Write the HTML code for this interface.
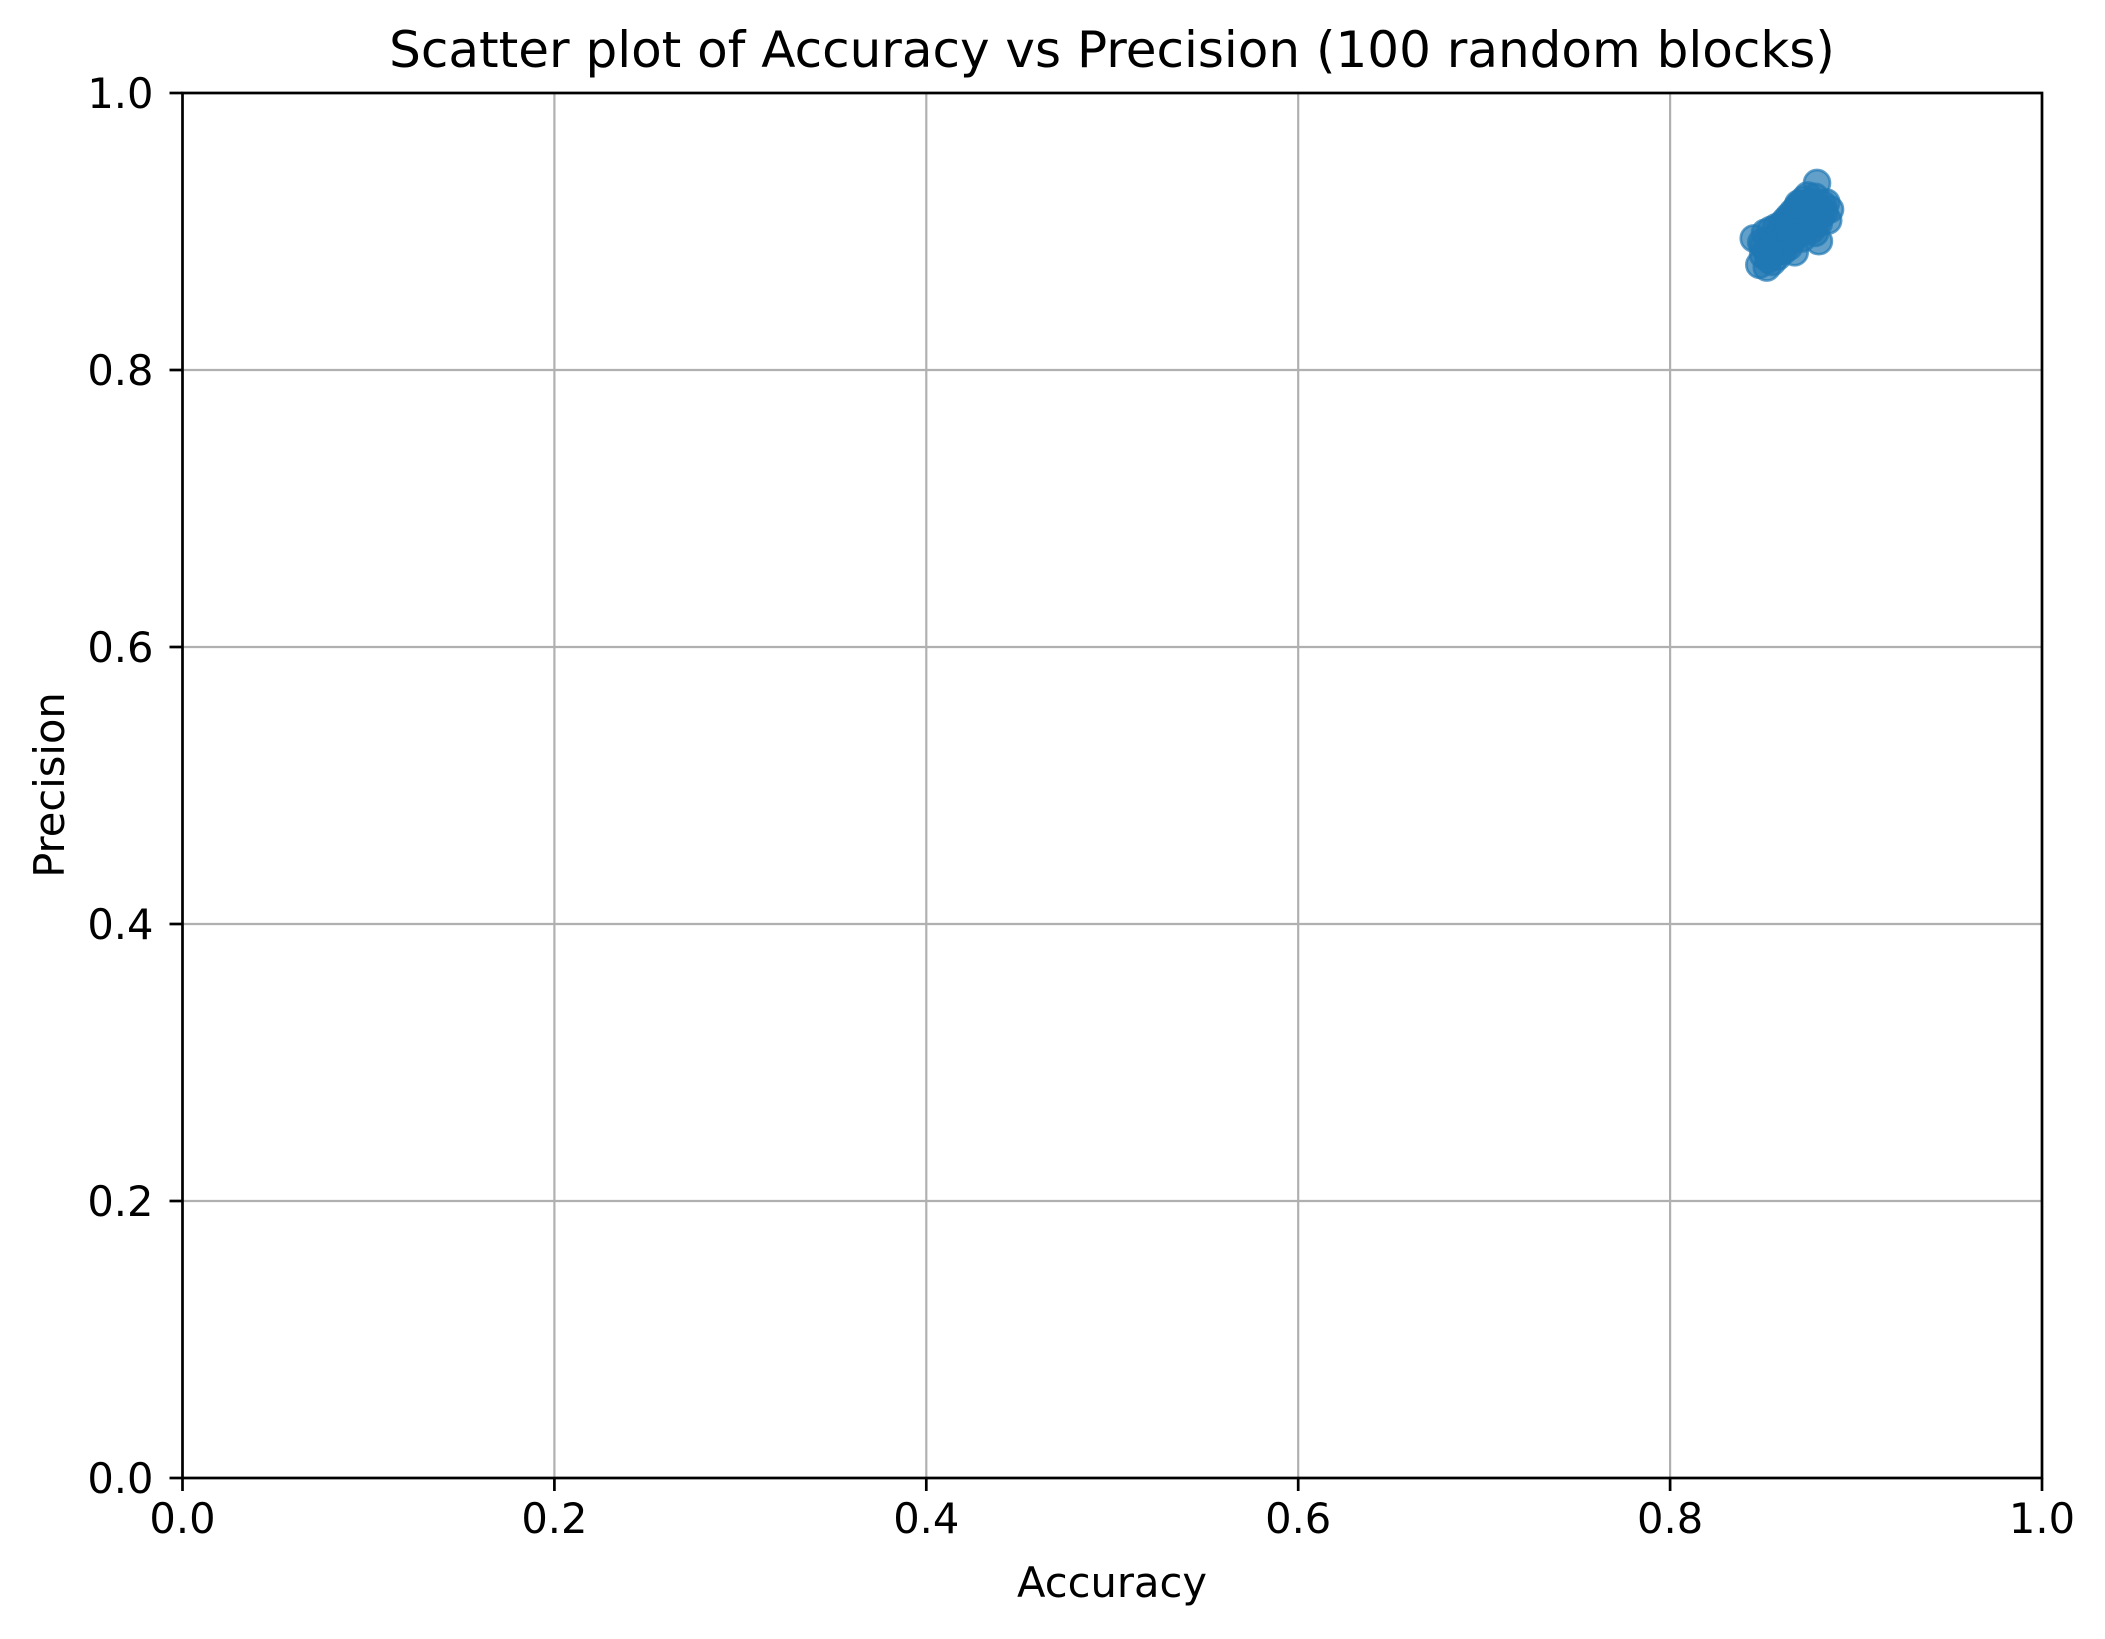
<!DOCTYPE html>
<html><head><meta charset="utf-8"><style>
html,body{margin:0;padding:0;background:#fff}
svg text{font-family:"DejaVu Sans","Liberation Sans",sans-serif;fill:#000}
</style></head><body>
<svg id="chart" width="2105" height="1634" xmlns="http://www.w3.org/2000/svg">
<rect width="2105" height="1634" fill="#fff"/>
<g id="grid"></g>
<g id="points"></g>
<rect x="182.5" y="93" width="1859.5" height="1385" fill="none" stroke="#000" stroke-width="2.7"/>
<g id="ticks"></g>
<text x="1112" y="67" font-size="50" text-anchor="middle">Scatter plot of Accuracy vs Precision (100 random blocks)</text>
<text x="1112" y="1597" font-size="41.6" text-anchor="middle">Accuracy</text>
<text x="0" y="0" font-size="41.6" text-anchor="middle" transform="translate(64,785) rotate(-90)">Precision</text>
</svg>
<script>
const xTicks=[0,0.2,0.4,0.6,0.8,1.0];
const yTicks=[0,0.2,0.4,0.6,0.8,1.0];
const tickLabels=["0.0","0.2","0.4","0.6","0.8","1.0"];
const accuracy=[0.845,0.848,0.850,0.852,0.851,0.853,0.855,0.854,0.856,0.857,0.858,0.857,0.859,0.860,0.861,0.860,0.862,0.863,0.862,0.864,0.865,0.864,0.866,0.867,0.866,0.868,0.869,0.868,0.870,0.871,0.870,0.872,0.873,0.872,0.874,0.875,0.874,0.876,0.877,0.876,0.878,0.879,0.880,0.881,0.882,0.884,0.886,0.880,0.878,0.876,0.852,0.854,0.856,0.858,0.860,0.862,0.864,0.866,0.868,0.870,0.872,0.874,0.876,0.878,0.880,0.853,0.857,0.861,0.865,0.869,0.873,0.877,0.881,0.855,0.859,0.863,0.867,0.871,0.875,0.879,0.850,0.849,0.858,0.862,0.866,0.870,0.874,0.878,0.883,0.885,0.856,0.860,0.864,0.868,0.872,0.876,0.867,0.871,0.863,0.869];
const precision=[0.895,0.876,0.890,0.874,0.899,0.884,0.893,0.901,0.888,0.897,0.882,0.903,0.891,0.895,0.886,0.905,0.898,0.892,0.908,0.889,0.900,0.911,0.894,0.906,0.914,0.899,0.910,0.917,0.903,0.912,0.920,0.906,0.915,0.923,0.909,0.918,0.926,0.904,0.913,0.921,0.909,0.935,0.917,0.911,0.920,0.921,0.916,0.893,0.899,0.901,0.886,0.892,0.889,0.896,0.900,0.897,0.904,0.902,0.908,0.905,0.912,0.910,0.915,0.913,0.906,0.880,0.885,0.890,0.894,0.898,0.902,0.907,0.913,0.878,0.887,0.893,0.897,0.901,0.906,0.918,0.883,0.892,0.894,0.896,0.909,0.914,0.919,0.925,0.914,0.908,0.890,0.887,0.899,0.912,0.916,0.911,0.885,0.895,0.903,0.920];
const L=182.5,R=2042,T=93,B=1478;
const sx=v=>L+(v-0)/(1-0)*(R-L);
const sy=v=>B-(v-0)/(1-0)*(B-T);
const NS="http://www.w3.org/2000/svg";
const grid=document.getElementById('grid'),ticks=document.getElementById('ticks'),pts=document.getElementById('points');
function mk(tag,parent,attrs){const e=document.createElementNS(NS,tag);for(const k in attrs)e.setAttribute(k,attrs[k]);parent.appendChild(e);return e;}
xTicks.forEach((v,i)=>{
 const x=sx(v);
 const g=mk('line',grid,{x1:x,x2:x,y1:T,y2:B,stroke:'#b0b0b0','stroke-width':2.2});
 
 
 const t=mk('line',ticks,{x1:x,x2:x,y1:B,y2:B+13,stroke:'#000','stroke-width':2.7});
 
 
 const l=mk('text',ticks,{x:x,y:B+55,'font-size':41.6,'text-anchor':'middle'});
 l.textContent=tickLabels[i];
 
 
});
yTicks.forEach((v,i)=>{
 const y=sy(v);
 const g=mk('line',grid,{x1:L,x2:R,y1:y,y2:y,stroke:'#b0b0b0','stroke-width':2.2});
 
 
 const t=mk('line',ticks,{x1:L-13,x2:L,y1:y,y2:y,stroke:'#000','stroke-width':2.7});
 
 
 const l=mk('text',ticks,{x:L-29,y:y+15,'font-size':41.6,'text-anchor':'end'});
 l.textContent=tickLabels[i];
 
 
});
accuracy.forEach((a,i)=>{
 const c=mk('circle',pts,{cx:sx(a),cy:sy(precision[i]),r:13,fill:'#1f77b4','fill-opacity':0.7,stroke:'#1f77b4','stroke-opacity':0.7,'stroke-width':2.7});
 
 
});
</script>
</body></html>
